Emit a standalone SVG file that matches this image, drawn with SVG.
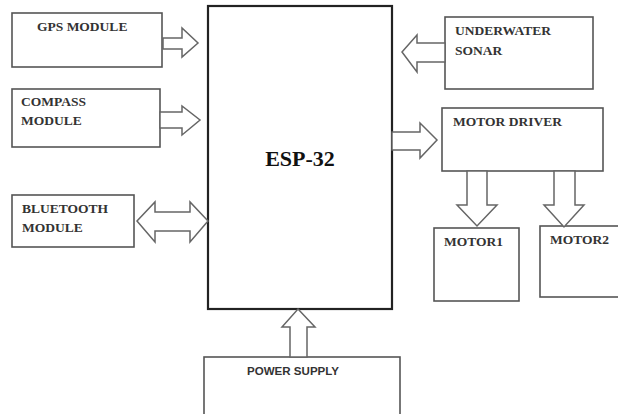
<svg xmlns="http://www.w3.org/2000/svg" width="618" height="414" viewBox="0 0 618 414">
<style>
.box{fill:#fff;stroke:#555;stroke-width:1.6}
.main{fill:#fff;stroke:#222;stroke-width:2.2}
.arr{fill:#fff;stroke:#666;stroke-width:1.5;stroke-linejoin:miter}
.lbl{font-family:"Liberation Serif",serif;font-weight:bold;font-size:13.5px;fill:#333}
.big{font-family:"Liberation Serif",serif;font-weight:bold;font-size:22px;fill:#111}
.sans{font-family:"Liberation Sans",sans-serif;font-weight:bold;font-size:11px;fill:#333}
</style>
<rect width="618" height="414" fill="#fff"/>
<g id="gps"><rect class="box" x="12" y="13" width="150" height="54"/><text class="lbl" x="37" y="31">GPS MODULE</text></g>
<g id="compass"><rect class="box" x="12" y="89" width="148" height="58"/><text class="lbl" x="21" y="106">COMPASS</text><text class="lbl" x="21" y="125">MODULE</text></g>
<g id="bluetooth"><rect class="box" x="12" y="195" width="122" height="52"/><text class="lbl" x="22" y="213">BLUETOOTH</text><text class="lbl" x="22" y="232">MODULE</text></g>
<g id="esp32"><rect class="main" x="208" y="6" width="184" height="303"/><text class="big" x="300" y="166" text-anchor="middle">ESP-32</text></g>
<g id="sonar"><rect class="box" x="445" y="17" width="148" height="72"/><text class="lbl" x="455" y="35">UNDERWATER</text><text class="lbl" x="455" y="55">SONAR</text></g>
<g id="motordriver"><rect class="box" x="442" y="108" width="161" height="63"/><text class="lbl" x="453" y="126">MOTOR DRIVER</text></g>
<g id="motor1"><rect class="box" x="434" y="228" width="85" height="73"/><text class="lbl" x="444" y="246">MOTOR1</text></g>
<g id="motor2"><rect class="box" x="540" y="226" width="90" height="71"/><text class="lbl" x="550" y="244">MOTOR2</text></g>
<g id="power"><rect class="box" x="204" y="357" width="196" height="70"/><text class="sans" x="247" y="375" textLength="92" lengthAdjust="spacingAndGlyphs">POWER SUPPLY</text></g>
<g id="connectors">
<polygon class="arr" points="163,38 182,38 182,28 198,43 182,57 182,49 163,49"/>
<polygon class="arr" points="160,112 182,112 182,106 200,120 182,135 182,128 160,128"/>
<polygon class="arr" points="137,221 155,202 155,212 190,212 190,202 208,221 190,242 190,231 155,231 155,242"/>
<polygon class="arr" points="402,52 417,35 417,43 445,43 445,62 417,62 417,72"/>
<polygon class="arr" points="392,132 420,132 420,123 437,140 420,158 420,150 392,150"/>
<polygon class="arr" points="467,171 487,171 487,205 497,205 477,226 457,205 467,205"/>
<polygon class="arr" points="554,171 575,171 575,205 584,205 564,227 544,205 554,205"/>
<polygon class="arr" points="298,309 315,327 307,327 307,357 290,357 290,327 282,327"/>
</g>
</svg>
